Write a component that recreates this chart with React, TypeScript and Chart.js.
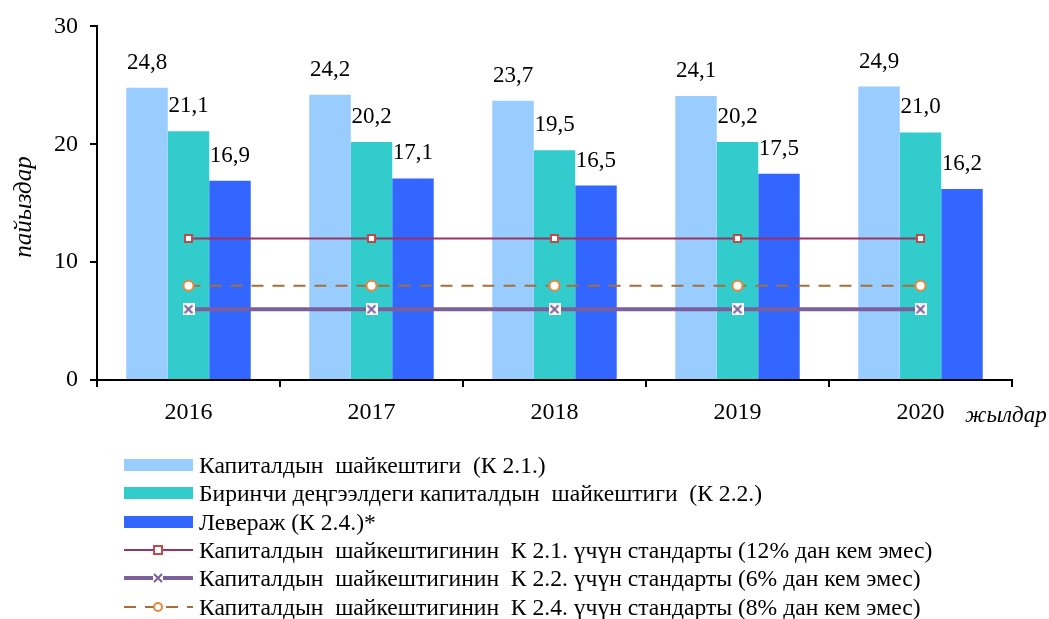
import React, { useEffect, useRef } from "react";
import { Chart, registerables } from "chart.js";

Chart.register(...registerables);

const years = ["2016", "2017", "2018", "2019", "2020"];
const k21 = [24.8, 24.2, 23.7, 24.1, 24.9];
const k22 = [21.1, 20.2, 19.5, 20.2, 21.0];
const k24 = [16.9, 17.1, 16.5, 17.5, 16.2];
const std21 = [12, 12, 12, 12, 12];
const std22 = [6, 6, 6, 6, 6];
const std24 = [8, 8, 8, 8, 8];
const yTicks = [0, 10, 20, 30];

const barLabels = [
  "Капиталдын  шайкештиги  (К 2.1.)",
  "Биринчи деңгээлдеги капиталдын  шайкештиги  (К 2.2.)",
  "Левераж (К 2.4.)*",
];
const lineLabels = [
  "Капиталдын  шайкештигинин  К 2.1. үчүн стандарты (12% дан кем эмес)",
  "Капиталдын  шайкештигинин  К 2.2. үчүн стандарты (6% дан кем эмес)",
  "Капиталдын  шайкештигинин  К 2.4. үчүн стандарты (8% дан кем эмес)",
];

const C_LIGHT = "#99CCFF";
const C_TEAL = "#33CCCC";
const C_BLUE = "#3366FF";
const C_L1 = "#993366";
const C_L1M = "#BE4B48";
const C_L2 = "#7B5F9C";
const C_L3 = "#A66E3A";
const C_L3M = "#E8873A";
const FONT = "'Liberation Serif', 'Times New Roman', serif";

function makeCrossMarker(): HTMLCanvasElement {
  const c = document.createElement("canvas");
  c.width = 12;
  c.height = 12;
  const ctx = c.getContext("2d")!;
  ctx.fillStyle = "#fff";
  ctx.fillRect(0, 0, 12, 12);
  ctx.strokeStyle = C_L2;
  ctx.lineWidth = 2;
  ctx.beginPath();
  ctx.moveTo(2, 2);
  ctx.lineTo(10, 10);
  ctx.moveTo(10, 2);
  ctx.lineTo(2, 10);
  ctx.stroke();
  return c;
}

const labelPlugin = {
  id: "labels",
  afterDatasetsDraw(chart: any) {
    const ctx = chart.ctx;
    ctx.save();
    ctx.fillStyle = "#000";
    ctx.font = `23px ${FONT}`;
    ctx.textAlign = "center";
    ctx.textBaseline = "alphabetic";
    for (let d = 0; d < 3; d++) {
      const meta = chart.getDatasetMeta(d);
      meta.data.forEach((el: any, i: number) => {
        const v = chart.data.datasets[d].data[i] as number;
        ctx.fillText(v.toFixed(1).replace(".", ","), el.x, el.y - 19);
      });
    }
    ctx.font = `italic 23px ${FONT}`;
    ctx.textAlign = "left";
    ctx.textBaseline = "middle";
    ctx.fillText("жылдар", 965, 416);
    ctx.font = `italic 25px ${FONT}`;
    ctx.translate(24, 207);
    ctx.rotate(-Math.PI / 2);
    ctx.textAlign = "center";
    ctx.fillText("пайыздар", 0, 0);
    ctx.restore();
  },
};

function LegendSymbol({ kind }: { kind: number }) {
  const w = 69;
  const h = 22;
  const cy = 11;
  const cx = 34;
  if (kind === 0 || kind === 1 || kind === 2) {
    const col = [C_LIGHT, C_TEAL, C_BLUE][kind];
    return (
      <svg width={w} height={h} style={{ flex: "none" }}>
        <rect x={0} y={cy - 6} width={w} height={12} fill={col} />
      </svg>
    );
  }
  if (kind === 3) {
    return (
      <svg width={w} height={h} style={{ flex: "none" }}>
        <line x1={0} y1={cy} x2={w} y2={cy} stroke={C_L1} strokeWidth={2} />
        <rect x={cx - 4} y={cy - 4} width={8} height={8} fill="#fff" stroke={C_L1M} strokeWidth={2} />
      </svg>
    );
  }
  if (kind === 4) {
    return (
      <svg width={w} height={h} style={{ flex: "none" }}>
        <line x1={1} y1={cy} x2={w - 1} y2={cy} stroke={C_L2} strokeWidth={4} strokeLinecap="round" />
        <rect x={cx - 5} y={cy - 5} width={10} height={10} fill="#fff" />
        <path d={`M${cx - 4} ${cy - 4} L${cx + 4} ${cy + 4} M${cx + 4} ${cy - 4} L${cx - 4} ${cy + 4}`} stroke={C_L2} strokeWidth={2} />
      </svg>
    );
  }
  return (
    <svg width={w} height={h} style={{ flex: "none" }}>
      <line x1={0} y1={cy} x2={w} y2={cy} stroke={C_L3} strokeWidth={2} strokeDasharray="12 9" />
      <circle cx={cx} cy={cy} r={4} fill="#fff" stroke={C_L3M} strokeWidth={2} />
    </svg>
  );
}

export default function App() {
  const ref = useRef<HTMLCanvasElement>(null);
  useEffect(() => {
    document.body.style.margin = "0";
    const cross = makeCrossMarker();
    const chart = new Chart(ref.current!, {
      type: "bar",
      data: {
        labels: years,
        datasets: [
          { type: "bar", label: barLabels[0], data: k21, backgroundColor: C_LIGHT, order: 1, categoryPercentage: 0.68, barPercentage: 1 },
          { type: "bar", label: barLabels[1], data: k22, backgroundColor: C_TEAL, order: 1, categoryPercentage: 0.68, barPercentage: 1 },
          { type: "bar", label: barLabels[2], data: k24, backgroundColor: C_BLUE, order: 1, categoryPercentage: 0.68, barPercentage: 1 },
          {
            type: "line", label: lineLabels[0], data: std21, borderColor: C_L1, borderWidth: 2,
            pointStyle: "rect", pointRadius: 5, pointBackgroundColor: "#fff", pointBorderColor: C_L1M, pointBorderWidth: 2, order: 0,
          },
          {
            type: "line", label: lineLabels[1], data: std22, borderColor: C_L2, borderWidth: 4,
            pointStyle: cross as any, order: 0,
          },
          {
            type: "line", label: lineLabels[2], data: std24, borderColor: C_L3, borderWidth: 2, borderDash: [12, 9],
            pointStyle: "circle", pointRadius: 5, pointBackgroundColor: "#fff", pointBorderColor: C_L3M, pointBorderWidth: 2, order: 0,
          },
        ] as any,
      },
      options: {
        animation: false,
        responsive: false,
        layout: { padding: { top: 22, right: 37, left: 0, bottom: 0 } },
        plugins: { legend: { display: false }, tooltip: { enabled: false } },
        scales: {
          x: {
            offset: true,
            grid: { display: true, drawOnChartArea: false, offset: true, color: "#000", tickLength: 7, lineWidth: 2 },
            border: { display: true, color: "#000", width: 2 },
            ticks: { color: "#000", font: { family: FONT, size: 24 }, padding: 11 },
            afterFit: (s: any) => { s.height = 239; },
          },
          y: {
            min: 0,
            max: 30,
            afterBuildTicks: (s: any) => { s.ticks = yTicks.map((v) => ({ value: v })); },
            grid: { display: true, drawOnChartArea: false, color: "#000", tickLength: 7, lineWidth: 2 },
            border: { display: true, color: "#000", width: 2 },
            ticks: { color: "#000", font: { family: FONT, size: 24 }, padding: 12 },
            afterFit: (s: any) => { s.width = 97; },
          },
        },
      },
      plugins: [labelPlugin],
    });
    return () => chart.destroy();
  }, []);

  const allLabels = [...barLabels, ...lineLabels];
  return (
    <div style={{ position: "relative", width: 1049, height: 619, overflow: "hidden" }}>
      <canvas ref={ref} width={1049} height={619} style={{ display: "block", width: 1049, height: 619 }} />
      <div style={{ position: "absolute", left: 124, top: 451, fontFamily: FONT, fontSize: 23.6, color: "#000" }}>
        {allLabels.map((t, i) => (
          <div key={i} style={{ display: "flex", alignItems: "center", height: 28.3, whiteSpace: "pre" }}>
            <LegendSymbol kind={i} />
            <span style={{ marginLeft: 6, lineHeight: "24px" }}>{t}</span>
          </div>
        ))}
      </div>
    </div>
  );
}
